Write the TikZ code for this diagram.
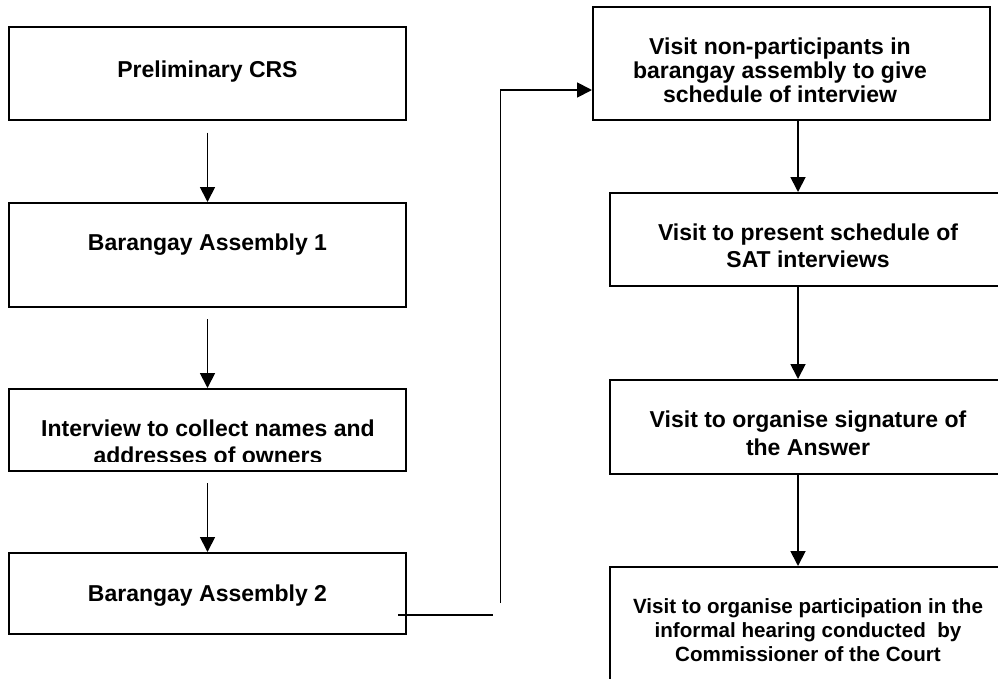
\documentclass[tikz,border=0pt]{standalone}
\usepackage{fontspec}
\setmainfont{Liberation Sans}
\usetikzlibrary{arrows.meta}
\newcommand{\txtlines}[3]{\fontsize{#1}{#2}\selectfont\begin{tabular}[t]{@{}c@{}}#3\end{tabular}}
\begin{document}
\begin{tikzpicture}[x=1pt,y=-1pt,
  box/.style={draw=black,line width=2pt,inner sep=0pt,fill=white},
  txt/.style={inner sep=0pt,anchor=base,font=\bfseries},
  arr/.style={draw=black,line width=1.8pt,-{Triangle[width=15pt,length=15pt]}},
  link/.style={draw=black,line width=1.8pt}]
\useasboundingbox (0,0) rectangle (998,678);
\clip (0,0) rectangle (998,678);
% left column
\node[box,minimum width=397pt,minimum height=93pt]  (b1) at (207.5,73.5) {};
\node[box,minimum width=397pt,minimum height=104pt] (b2) at (207.5,255) {};
\node[box,minimum width=397pt,minimum height=82pt]  (b3) at (207.5,430) {};
\node[box,minimum width=397pt,minimum height=81pt]  (b4) at (207.5,593.5) {};
% right column
\node[box,minimum width=397pt,minimum height=113pt] (r1) at (791.5,63.5) {};
\node[box,minimum width=396pt,minimum height=93pt]  (r2) at (808,239.5) {};
\node[box,minimum width=396pt,minimum height=94pt]  (r3) at (808,427) {};
\node[box,minimum width=396pt,minimum height=140pt] (r4) at (808,637) {};
% texts
\node[txt] (t1) at (207.5,77) {\txtlines{23}{24}{Preliminary CRS}};
\node[txt] (t2) at (207.5,250.5) {\txtlines{23}{24}{Barangay Assembly 1}};
\begin{scope}
\clip (b3.north west) rectangle ([yshift=11pt]b3.south east);
\node[txt] (t3) at (208,436.7) {\txtlines{23}{27}{Interview to collect names and\\addresses of owners}};
\end{scope}
\node[txt] (t4) at (207.5,601) {\txtlines{23}{24}{Barangay Assembly 2}};
\node[txt] (s1) at (780,54) {\txtlines{23}{24}{Visit non-participants in\\barangay assembly to give\\schedule of interview}};
\node[txt] (s2) at (808,240) {\txtlines{23}{27.5}{Visit to present schedule of\\SAT interviews}};
\node[txt] (s3) at (808,427) {\txtlines{23}{28}{Visit to organise signature of\\the Answer}};
\node[txt] (s4) at (808,613.3) {\txtlines{20.6}{24.2}{Visit to organise participation in the\\informal hearing conducted\ \ by\\Commissioner of the Court}};
% connectors
\draw[arr,shorten <=11.5pt] (b1) -- (b2);
\draw[arr,shorten <=11pt] (b2) -- (b3);
\draw[arr,shorten <=11pt] (b3) -- (b4);
\draw[arr] ([xshift=6.5pt]r1.south) -- ([xshift=-10pt]r2.north);
\draw[arr] ([xshift=-10pt]r2.south) -- ([xshift=-10pt]r3.north);
\draw[arr] ([xshift=-10pt]r3.south) -- ([xshift=-10pt]r4.north);
\coordinate (c1) at (398,615);
\coordinate (c2) at (493,615);
\coordinate (c3) at (500.5,603);
\coordinate (c4) at (500.5,90);
\draw[link] (c1) -- (c2);
\draw[arr] (c3) -- (c4) -- (c4 -| r1.west);
\end{tikzpicture}
\end{document}
